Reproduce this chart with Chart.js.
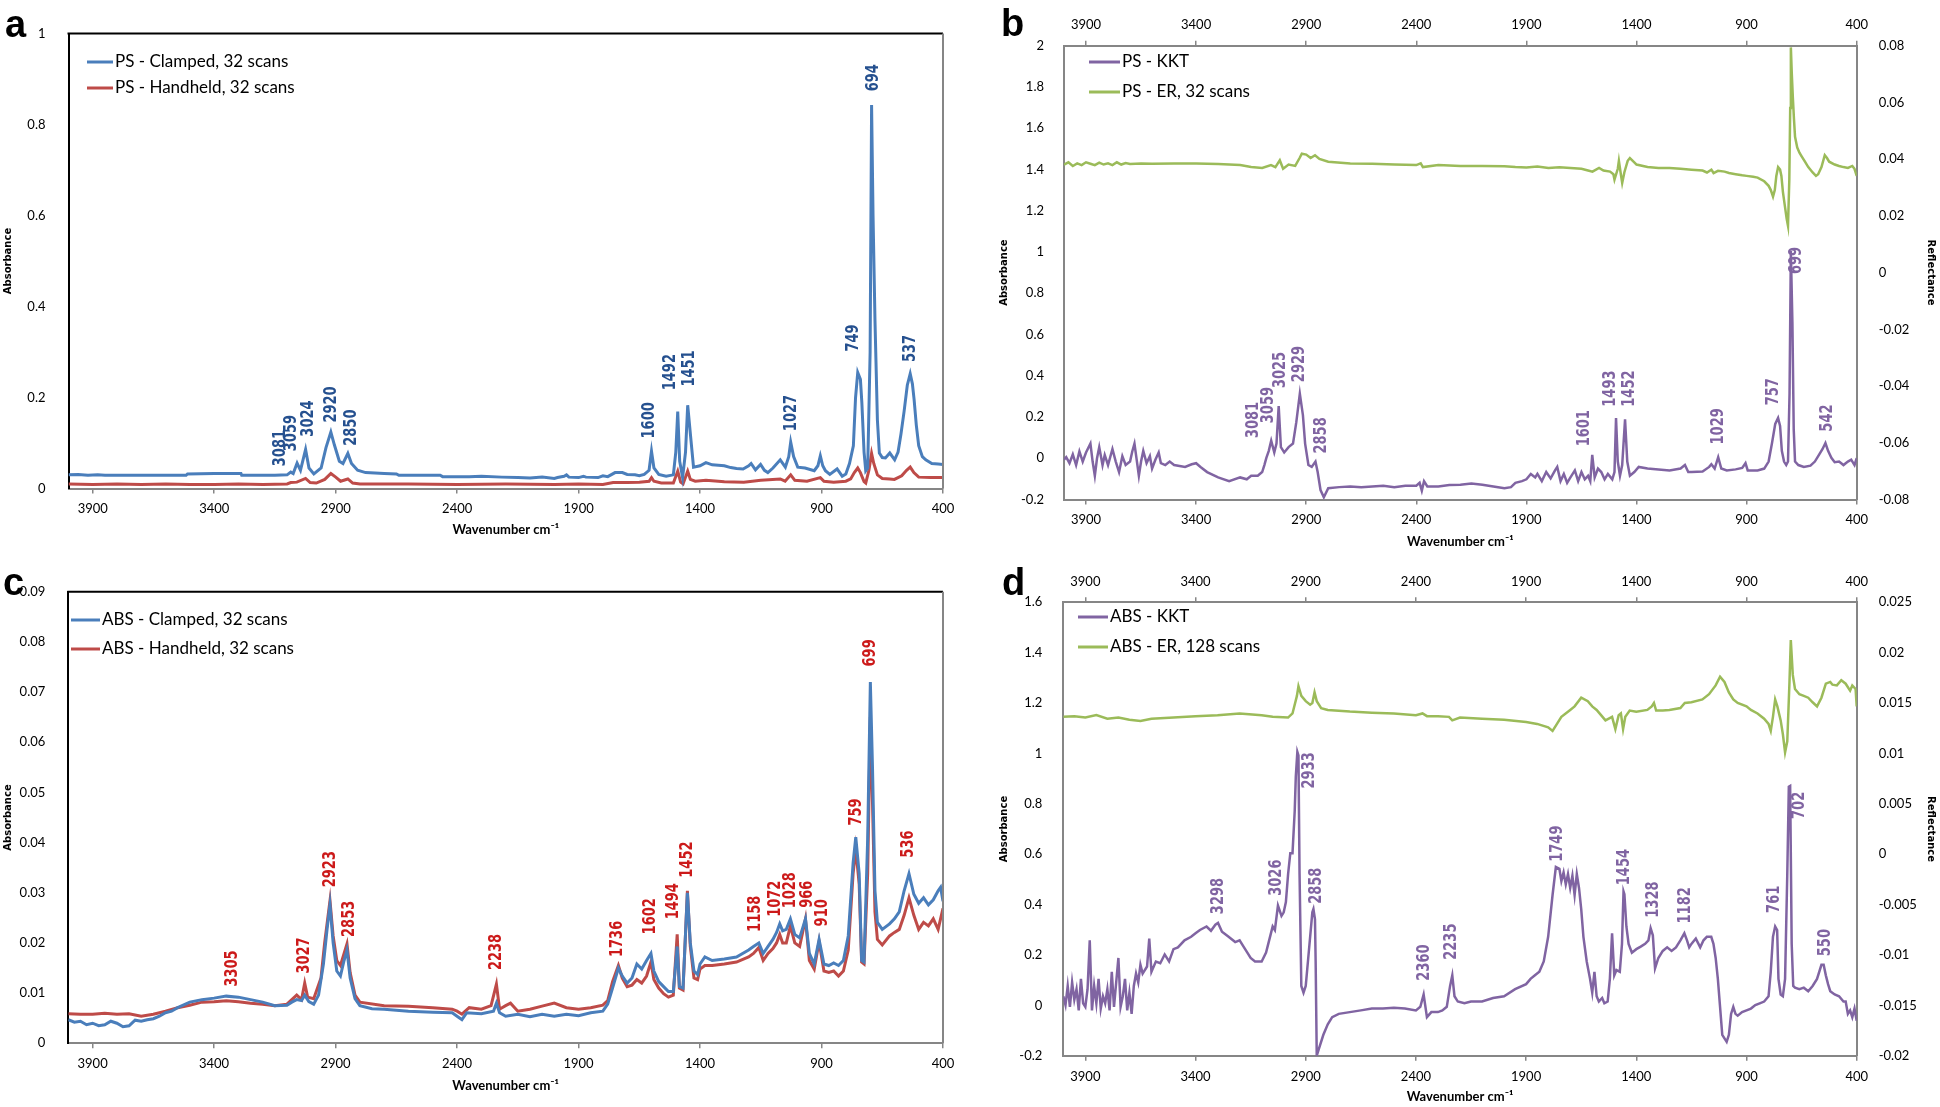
<!DOCTYPE html>
<html>
<head>
<meta charset="utf-8">
<script src="https://cdn.jsdelivr.net/npm/chart.js@4.4.1/dist/chart.umd.min.js"></script>
<style>
  body { margin: 0; background: #fff; width: 1940px; height: 1107px; overflow: hidden; position: relative; }
  canvas { position: absolute; }
</style>
</head>
<body>
<canvas id="chart-a" width="970" height="560" style="left:0;top:0"></canvas>
<canvas id="chart-b" width="970" height="560" style="left:970px;top:0"></canvas>
<canvas id="chart-c" width="970" height="547" style="left:0;top:560px"></canvas>
<canvas id="chart-d" width="970" height="547" style="left:970px;top:560px"></canvas>
<script>
// tick values
const xTicks = [3900, 3400, 2900, 2400, 1900, 1400, 900, 400];
const yTicksA = [0, 0.2, 0.4, 0.6, 0.8, 1];
const yTicksB = [-0.2, 0, 0.2, 0.4, 0.6, 0.8, 1, 1.2, 1.4, 1.6, 1.8, 2];
const yTicksBRight = [-0.08, -0.06, -0.04, -0.02, 0, 0.02, 0.04, 0.06, 0.08];
const yTicksC = [0, 0.01, 0.02, 0.03, 0.04, 0.05, 0.06, 0.07, 0.08, 0.09];
const yTicksD = [-0.2, 0, 0.2, 0.4, 0.6, 0.8, 1, 1.2, 1.4, 1.6];
const yTicksDRight = [-0.02, -0.015, -0.01, -0.005, 0, 0.005, 0.01, 0.015, 0.02, 0.025];

// spectra: [wavenumber, value]
const psClamped = [[4000,0.030],[3960,0.031],[3920,0.029],[3880,0.030],[3850,0.029],[3700,0.029],[3600,0.029],[3516,0.029],[3510,0.032],[3400,0.033],[3290,0.033],[3287,0.029],[3150,0.029],[3100,0.030],[3085,0.036],[3075,0.033],[3059,0.056],[3045,0.040],[3024,0.086],[3010,0.045],[2990,0.032],[2960,0.045],[2940,0.090],[2920,0.124],[2905,0.095],[2885,0.060],[2870,0.055],[2850,0.077],[2835,0.055],[2810,0.040],[2777,0.035],[2700,0.033],[2650,0.032],[2640,0.029],[2470,0.029],[2460,0.026],[2350,0.026],[2300,0.027],[2216,0.025],[2150,0.024],[2100,0.023],[2050,0.025],[2000,0.022],[1987,0.024],[1960,0.027],[1950,0.030],[1940,0.025],[1900,0.024],[1880,0.027],[1870,0.025],[1820,0.024],[1800,0.028],[1780,0.026],[1750,0.035],[1720,0.035],[1700,0.031],[1668,0.030],[1650,0.028],[1630,0.031],[1610,0.040],[1600,0.082],[1590,0.045],[1570,0.031],[1540,0.027],[1510,0.030],[1500,0.080],[1492,0.169],[1484,0.060],[1472,0.024],[1460,0.080],[1451,0.183],[1440,0.120],[1427,0.047],[1400,0.050],[1376,0.057],[1350,0.052],[1325,0.051],[1300,0.050],[1274,0.046],[1250,0.044],[1223,0.043],[1200,0.050],[1190,0.055],[1172,0.041],[1151,0.053],[1135,0.040],[1121,0.035],[1100,0.045],[1070,0.063],[1049,0.047],[1035,0.070],[1027,0.102],[1015,0.070],[998,0.047],[968,0.045],[930,0.039],[915,0.050],[905,0.072],[895,0.050],[884,0.039],[866,0.031],[836,0.043],[815,0.027],[800,0.032],[785,0.055],[769,0.094],[760,0.200],[751,0.255],[740,0.240],[734,0.188],[725,0.080],[718,0.039],[710,0.045],[700,0.300],[694,0.843],[688,0.600],[680,0.369],[670,0.150],[662,0.078],[650,0.068],[637,0.067],[619,0.078],[599,0.063],[585,0.080],[573,0.120],[560,0.170],[547,0.227],[535,0.252],[526,0.230],[519,0.196],[510,0.140],[500,0.094],[485,0.070],[471,0.063],[446,0.055],[420,0.054],[400,0.053]];
const psHandheld = [[4000,0.010],[3900,0.009],[3800,0.010],[3700,0.009],[3600,0.010],[3500,0.009],[3400,0.009],[3300,0.010],[3200,0.009],[3100,0.010],[3085,0.013],[3060,0.014],[3024,0.022],[3005,0.013],[2980,0.012],[2945,0.020],[2920,0.033],[2900,0.025],[2880,0.016],[2850,0.021],[2830,0.012],[2800,0.010],[2600,0.010],[2400,0.009],[2200,0.010],[2000,0.009],[1900,0.010],[1800,0.009],[1758,0.013],[1700,0.013],[1650,0.014],[1610,0.016],[1600,0.024],[1590,0.016],[1560,0.012],[1510,0.012],[1492,0.038],[1480,0.014],[1470,0.010],[1451,0.038],[1440,0.020],[1420,0.016],[1376,0.018],[1300,0.015],[1220,0.014],[1150,0.018],[1070,0.021],[1050,0.016],[1027,0.030],[1010,0.018],[960,0.016],[905,0.024],[890,0.016],[850,0.014],[800,0.016],[780,0.021],[765,0.035],[751,0.045],[740,0.035],[725,0.015],[718,0.012],[705,0.040],[694,0.077],[685,0.055],[670,0.030],[650,0.022],[620,0.021],[600,0.020],[570,0.028],[550,0.040],[535,0.047],[520,0.035],[500,0.025],[450,0.024],[400,0.024]];

const psKKT = [[4000,-0.007],[3990,0.005],[3975,-0.024],[3960,0.019],[3945,-0.033],[3930,0.033],[3915,-0.016],[3900,0.028],[3880,0.071],[3870,-0.016],[3860,-0.085],[3850,0],[3840,0.054],[3825,-0.033],[3815,0.016],[3800,-0.033],[3780,0.045],[3765,-0.016],[3750,-0.067],[3735,0.010],[3720,-0.033],[3700,-0.016],[3690,0.033],[3680,0.071],[3670,-0.007],[3660,-0.085],[3650,-0.016],[3640,0.036],[3625,-0.024],[3610,0.010],[3600,-0.050],[3585,-0.007],[3570,0.028],[3560,-0.024],[3540,-0.033],[3520,-0.016],[3500,-0.033],[3450,-0.042],[3420,-0.029],[3400,-0.024],[3380,-0.042],[3350,-0.067],[3300,-0.093],[3250,-0.111],[3200,-0.093],[3170,-0.102],[3150,-0.085],[3120,-0.085],[3100,-0.067],[3090,-0.033],[3081,0.002],[3070,0.036],[3059,0.085],[3045,0.028],[3035,0.071],[3025,0.253],[3015,0.054],[3000,0.028],[2980,0.054],[2960,0.071],[2945,0.175],[2929,0.313],[2915,0.209],[2905,0.071],[2890,-0.033],[2875,-0.042],[2858,-0.016],[2848,-0.067],[2835,-0.154],[2820,-0.189],[2800,-0.145],[2750,-0.140],[2700,-0.137],[2650,-0.140],[2600,-0.137],[2550,-0.133],[2500,-0.140],[2450,-0.133],[2400,-0.133],[2385,-0.119],[2375,-0.157],[2365,-0.111],[2350,-0.137],[2300,-0.137],[2250,-0.130],[2200,-0.128],[2150,-0.123],[2100,-0.128],[2050,-0.137],[2000,-0.145],[1970,-0.140],[1950,-0.119],[1920,-0.111],[1900,-0.102],[1880,-0.076],[1860,-0.093],[1850,-0.076],[1830,-0.111],[1810,-0.067],[1790,-0.098],[1770,-0.059],[1760,-0.042],[1745,-0.111],[1730,-0.076],[1715,-0.119],[1700,-0.093],[1680,-0.059],[1665,-0.111],[1650,-0.067],[1635,-0.102],[1620,-0.085],[1610,-0.111],[1601,0.016],[1590,-0.093],[1575,-0.050],[1560,-0.067],[1545,-0.102],[1530,-0.076],[1510,-0.102],[1500,-0.067],[1493,0.195],[1485,-0.016],[1475,-0.085],[1465,-0.033],[1452,0.189],[1442,-0.016],[1430,-0.085],[1410,-0.067],[1390,-0.042],[1350,-0.050],[1300,-0.054],[1250,-0.059],[1200,-0.050],[1180,-0.033],[1165,-0.067],[1150,-0.067],[1100,-0.064],[1070,-0.042],[1060,-0.029],[1045,-0.050],[1029,0.005],[1015,-0.050],[990,-0.059],[950,-0.054],[920,-0.047],[905,-0.024],[895,-0.059],[850,-0.059],[820,-0.050],[800,-0.016],[785,0.071],[770,0.166],[757,0.195],[748,0.157],[740,0.036],[730,-0.016],[720,-0.033],[712,-0.016],[705,0.313],[699,1.005],[692,0.659],[686,0.140],[680,-0.016],[665,-0.033],[640,-0.042],[610,-0.036],[590,-0.016],[570,0.019],[555,0.045],[542,0.074],[530,0.036],[515,0.002],[500,-0.019],[480,-0.016],[460,-0.033],[440,-0.016],[425,-0.007],[410,-0.033],[400,0]];
const psER = [[4000,0.0381],[3980,0.0389],[3960,0.0376],[3940,0.0385],[3920,0.0379],[3900,0.0389],[3880,0.0384],[3860,0.0379],[3840,0.0388],[3820,0.0381],[3800,0.0385],[3780,0.0379],[3760,0.0389],[3740,0.0381],[3720,0.0386],[3700,0.0383],[3650,0.0385],[3600,0.0384],[3500,0.0385],[3400,0.0385],[3300,0.0383],[3200,0.0379],[3150,0.0372],[3100,0.0369],[3060,0.0379],[3040,0.0372],[3020,0.0396],[3005,0.0366],[2980,0.0381],[2950,0.0376],[2930,0.0404],[2920,0.0419],[2900,0.0416],[2880,0.0404],[2860,0.0414],[2840,0.0401],[2800,0.0391],[2700,0.0385],[2600,0.0384],[2500,0.0381],[2400,0.0379],[2380,0.0385],[2370,0.0372],[2300,0.0379],[2200,0.0376],[2100,0.0376],[2000,0.0375],[1950,0.0372],[1900,0.0371],[1850,0.0374],[1800,0.0369],[1750,0.0371],[1700,0.0369],[1650,0.0366],[1620,0.0360],[1600,0.0356],[1570,0.0369],[1550,0.0360],[1520,0.0356],[1505,0.0347],[1500,0.0328],[1485,0.0366],[1480,0.0394],[1470,0.0341],[1465,0.0316],[1455,0.0354],[1440,0.0394],[1430,0.0404],[1410,0.0389],[1400,0.0381],[1350,0.0372],[1300,0.0369],[1250,0.0369],[1200,0.0366],[1150,0.0363],[1100,0.0360],[1080,0.0353],[1060,0.0363],[1050,0.0351],[1030,0.0359],[1000,0.0356],[980,0.0351],[950,0.0347],[920,0.0343],[900,0.0341],[870,0.0338],[850,0.0335],[820,0.0322],[800,0.0306],[790,0.0291],[780,0.0268],[772,0.0291],[765,0.0341],[757,0.0372],[748,0.0363],[742,0.0341],[735,0.0284],[725,0.0228],[718,0.0190],[712,0.0165],[706,0.0328],[702,0.0580],[699,0.0794],[695,0.0706],[690,0.0618],[685,0.0543],[680,0.0479],[670,0.0441],[660,0.0423],[650,0.0410],[635,0.0391],[620,0.0372],[600,0.0353],[585,0.0341],[575,0.0347],[560,0.0372],[545,0.0414],[535,0.0404],[525,0.0391],[500,0.0381],[480,0.0376],[460,0.0372],[440,0.0369],[420,0.0376],[410,0.0366],[400,0.0341]];

const absClamped = [[4000,0.0047],[3975,0.0042],[3950,0.0044],[3925,0.0037],[3900,0.0040],[3875,0.0035],[3850,0.0037],[3825,0.0044],[3800,0.0040],[3775,0.0033],[3750,0.0035],[3725,0.0046],[3700,0.0044],[3675,0.0047],[3650,0.0049],[3625,0.0054],[3600,0.0061],[3575,0.0064],[3550,0.0071],[3500,0.0082],[3450,0.0087],[3400,0.0090],[3350,0.0094],[3300,0.0092],[3250,0.0087],[3200,0.0082],[3150,0.0075],[3100,0.0076],[3080,0.0082],[3060,0.0087],[3040,0.0085],[3027,0.0096],[3010,0.0083],[2990,0.0078],[2970,0.0096],[2950,0.0158],[2935,0.0227],[2923,0.0276],[2910,0.0200],[2895,0.0144],[2880,0.0134],[2865,0.0165],[2853,0.0186],[2840,0.0130],[2820,0.0089],[2800,0.0075],[2750,0.0069],[2700,0.0068],[2600,0.0064],[2500,0.0062],[2420,0.0061],[2400,0.0054],[2380,0.0047],[2360,0.0061],[2300,0.0059],[2250,0.0064],[2238,0.0080],[2225,0.0061],[2200,0.0054],[2150,0.0058],[2100,0.0053],[2050,0.0058],[2000,0.0054],[1950,0.0058],[1900,0.0055],[1850,0.0061],[1800,0.0064],[1780,0.0078],[1760,0.0110],[1736,0.0150],[1720,0.0134],[1700,0.0120],[1680,0.0130],[1660,0.0158],[1640,0.0148],[1620,0.0165],[1602,0.0179],[1590,0.0144],[1570,0.0123],[1550,0.0113],[1530,0.0103],[1510,0.0103],[1494,0.0193],[1485,0.0113],[1470,0.0110],[1452,0.0300],[1440,0.0200],[1425,0.0144],[1410,0.0137],[1400,0.0158],[1380,0.0172],[1350,0.0165],[1300,0.0168],[1250,0.0172],[1200,0.0186],[1180,0.0193],[1158,0.0200],[1140,0.0179],[1120,0.0193],[1100,0.0207],[1085,0.0221],[1072,0.0238],[1060,0.0224],[1045,0.0227],[1028,0.0248],[1010,0.0217],[990,0.0210],[966,0.0248],[950,0.0179],[930,0.0158],[910,0.0207],[890,0.0158],[870,0.0155],[850,0.0160],[830,0.0155],[810,0.0165],[790,0.0214],[770,0.0359],[759,0.0411],[745,0.0338],[735,0.0165],[725,0.0162],[710,0.0408],[699,0.0720],[690,0.0546],[680,0.0304],[670,0.0241],[650,0.0227],[620,0.0238],[600,0.0248],[580,0.0262],[560,0.0304],[540,0.0338],[520,0.0297],[500,0.0279],[480,0.0290],[460,0.0276],[440,0.0286],[420,0.0304],[410,0.0311],[400,0.0283]];
const absHandheld = [[4000,0.0059],[3950,0.0058],[3900,0.0058],[3850,0.0060],[3800,0.0058],[3750,0.0059],[3700,0.0054],[3650,0.0058],[3600,0.0064],[3550,0.0071],[3500,0.0076],[3450,0.0082],[3400,0.0083],[3350,0.0085],[3300,0.0083],[3250,0.0080],[3200,0.0078],[3150,0.0075],[3100,0.0078],[3060,0.0096],[3040,0.0087],[3027,0.0120],[3015,0.0092],[2990,0.0089],[2960,0.0130],[2945,0.0200],[2923,0.0284],[2910,0.0214],[2895,0.0165],[2880,0.0155],[2853,0.0198],[2840,0.0141],[2820,0.0096],[2800,0.0082],[2700,0.0075],[2600,0.0074],[2500,0.0071],[2420,0.0068],[2400,0.0064],[2380,0.0058],[2350,0.0071],[2300,0.0068],[2260,0.0075],[2238,0.0118],[2225,0.0068],[2200,0.0075],[2180,0.0080],[2150,0.0064],[2100,0.0068],[2050,0.0074],[2000,0.0080],[1950,0.0071],[1900,0.0068],[1850,0.0071],[1800,0.0076],[1780,0.0085],[1760,0.0123],[1736,0.0155],[1720,0.0130],[1700,0.0113],[1680,0.0116],[1660,0.0127],[1640,0.0120],[1620,0.0134],[1602,0.0162],[1590,0.0127],[1570,0.0110],[1550,0.0099],[1530,0.0092],[1510,0.0096],[1494,0.0217],[1485,0.0110],[1470,0.0106],[1452,0.0304],[1440,0.0193],[1425,0.0130],[1410,0.0127],[1400,0.0148],[1380,0.0155],[1350,0.0155],[1300,0.0158],[1250,0.0162],[1200,0.0172],[1180,0.0179],[1158,0.0191],[1140,0.0165],[1120,0.0179],[1100,0.0189],[1085,0.0200],[1072,0.0217],[1060,0.0200],[1045,0.0200],[1028,0.0234],[1010,0.0200],[990,0.0193],[966,0.0248],[950,0.0165],[930,0.0148],[910,0.0203],[890,0.0144],[870,0.0141],[850,0.0144],[830,0.0134],[810,0.0144],[790,0.0186],[770,0.0338],[759,0.0387],[745,0.0318],[735,0.0162],[725,0.0158],[710,0.0338],[699,0.0650],[690,0.0477],[680,0.0262],[670,0.0207],[650,0.0196],[620,0.0214],[600,0.0221],[580,0.0227],[560,0.0255],[540,0.0290],[520,0.0255],[500,0.0227],[480,0.0241],[460,0.0234],[440,0.0248],[420,0.0227],[400,0.0269]];

const absKKT = [[4000,0.036],[3990,0.001],[3980,0.077],[3970,-0.006],[3960,0.091],[3950,0.022],[3940,0.064],[3930,-0.020],[3920,0.105],[3910,0.008],[3900,-0.006],[3890,0.064],[3880,0.258],[3870,-0.020],[3860,0.077],[3850,0.008],[3840,0.105],[3830,-0.013],[3820,0.036],[3810,0.008],[3800,0.064],[3790,-0.020],[3780,0.133],[3770,-0.006],[3760,0.091],[3750,0.188],[3740,-0.006],[3730,0.036],[3720,0.105],[3710,-0.020],[3700,0.050],[3690,-0.034],[3680,0.077],[3670,0.126],[3660,0.091],[3650,0.161],[3640,0.126],[3620,0.154],[3610,0.265],[3600,0.133],[3580,0.174],[3560,0.167],[3540,0.202],[3520,0.174],[3500,0.223],[3480,0.230],[3450,0.258],[3420,0.272],[3400,0.286],[3380,0.299],[3350,0.313],[3330,0.296],[3310,0.320],[3298,0.327],[3280,0.292],[3250,0.272],[3220,0.251],[3200,0.258],[3180,0.230],[3160,0.202],[3150,0.188],[3130,0.174],[3100,0.174],[3080,0.209],[3070,0.244],[3050,0.313],[3040,0.299],[3026,0.396],[3010,0.355],[3000,0.369],[2990,0.410],[2980,0.521],[2970,0.604],[2960,0.604],[2950,0.771],[2945,0.909],[2938,1.006],[2933,0.992],[2928,0.521],[2920,0.077],[2910,0.050],[2900,0.077],[2890,0.174],[2870,0.369],[2865,0.382],[2858,0.341],[2855,0.174],[2850,-0.200],[2840,-0.172],[2820,-0.117],[2800,-0.075],[2780,-0.047],[2750,-0.034],[2700,-0.027],[2650,-0.020],[2600,-0.013],[2550,-0.013],[2500,-0.010],[2450,-0.013],[2400,-0.020],[2380,-0.006],[2365,0.043],[2350,-0.047],[2330,-0.027],[2300,-0.027],[2280,-0.020],[2260,-0.006],[2245,0.077],[2235,0.119],[2225,0.036],[2210,0.015],[2180,0.008],[2150,0.015],[2100,0.015],[2050,0.029],[2000,0.036],[1950,0.064],[1900,0.084],[1880,0.105],[1860,0.119],[1840,0.133],[1820,0.174],[1800,0.272],[1780,0.438],[1765,0.549],[1749,0.542],[1740,0.493],[1730,0.528],[1720,0.480],[1710,0.521],[1700,0.466],[1690,0.514],[1680,0.438],[1670,0.521],[1660,0.466],[1650,0.382],[1640,0.272],[1625,0.174],[1610,0.105],[1600,0.050],[1590,0.133],[1580,0.036],[1570,0.015],[1555,0.029],[1545,0.008],[1530,0.015],[1520,0.105],[1510,0.286],[1500,0.119],[1490,0.140],[1475,0.133],[1465,0.244],[1458,0.452],[1454,0.441],[1445,0.313],[1435,0.244],[1420,0.209],[1400,0.223],[1380,0.233],[1360,0.244],[1345,0.258],[1335,0.306],[1325,0.278],[1315,0.147],[1300,0.188],[1280,0.216],[1260,0.230],[1240,0.216],[1220,0.230],[1200,0.258],[1182,0.286],[1170,0.258],[1160,0.230],[1150,0.244],[1130,0.265],[1110,0.230],[1095,0.258],[1080,0.272],[1060,0.272],[1050,0.244],[1040,0.188],[1030,0.105],[1020,-0.006],[1010,-0.117],[1000,-0.131],[990,-0.145],[980,-0.117],[970,-0.034],[960,-0.006],[950,-0.034],[940,-0.041],[920,-0.027],[900,-0.020],[880,-0.013],[860,0.001],[840,0.008],[820,0.015],[800,0.036],[790,0.133],[780,0.272],[770,0.313],[761,0.299],[755,0.105],[745,0.043],[735,0.036],[725,0.105],[715,0.521],[708,0.868],[702,0.871],[695,0.244],[688,0.077],[680,0.070],[660,0.064],[640,0.070],[620,0.056],[600,0.077],[580,0.105],[560,0.161],[550,0.161],[540,0.119],[530,0.084],[520,0.056],[500,0.043],[480,0.036],[460,0.015],[450,0.015],[440,-0.034],[430,-0.020],[420,-0.047],[410,-0.013],[400,-0.061]];
const absER = [[4000,0.01363],[3950,0.0137],[3900,0.01356],[3850,0.0138],[3800,0.01345],[3750,0.01356],[3700,0.01335],[3650,0.01321],[3600,0.01345],[3500,0.01356],[3400,0.0137],[3300,0.0138],[3200,0.01397],[3100,0.0138],[3050,0.01363],[2980,0.01356],[2960,0.01397],[2940,0.01571],[2933,0.01668],[2920,0.01571],[2900,0.01519],[2880,0.01484],[2870,0.01501],[2860,0.01606],[2850,0.01519],[2830,0.0145],[2800,0.01432],[2700,0.01415],[2600,0.01404],[2500,0.01397],[2400,0.0138],[2370,0.01397],[2350,0.0137],[2300,0.0137],[2250,0.01363],[2235,0.01328],[2200,0.01356],[2100,0.01345],[2000,0.01335],[1900,0.01311],[1850,0.01293],[1800,0.01259],[1780,0.01224],[1760,0.01293],[1740,0.01363],[1700,0.01432],[1680,0.01467],[1650,0.01553],[1620,0.01519],[1600,0.01467],[1580,0.01432],[1560,0.0138],[1540,0.01328],[1510,0.01363],[1495,0.01241],[1480,0.0138],[1470,0.01397],[1460,0.01241],[1450,0.01363],[1430,0.01425],[1400,0.01415],[1350,0.01432],[1330,0.01467],[1320,0.01501],[1310,0.01425],[1280,0.01425],[1250,0.01432],[1200,0.0145],[1180,0.01501],[1150,0.01508],[1100,0.01536],[1070,0.01588],[1040,0.01675],[1020,0.01762],[1000,0.0171],[980,0.01606],[960,0.01536],[940,0.01501],[900,0.01467],[880,0.01432],[850,0.01397],[820,0.01345],[800,0.01293],[790,0.01224],[780,0.01363],[770,0.01536],[760,0.01467],[745,0.01328],[735,0.0119],[725,0.0101],[715,0.0112],[705,0.0171],[699,0.02126],[690,0.01779],[680,0.0164],[660,0.01588],[640,0.01571],[620,0.01553],[600,0.01508],[580,0.01467],[560,0.01553],[540,0.01692],[520,0.0171],[510,0.01682],[490,0.01675],[470,0.01727],[450,0.01692],[430,0.01623],[420,0.01675],[405,0.0164],[400,0.01467]];

// peak labels: [text, wavenumber of text, value at text bottom]
const psAbsPeaks = [['3081',3126,0.049],['3059',3083,0.082],['3024',3014,0.114],['2920',2917,0.145],['2850',2836,0.094],['1600',1610,0.110],['1492',1521,0.216],['1451',1444,0.224],['1027',1024,0.126],['749',769,0.301],['694',688,0.873],['537',535,0.278]];
const psKKTPeaks = [['3081',3139,0.098],['3059',3072,0.170],['3025',3016,0.340],['2929',2931,0.369],['2858',2830,0.023],['1601',1635,0.058],['1493',1517,0.250],['1452',1432,0.250],['1029',1030,0.067],['757',777,0.257],['699',673,0.893],['542',532,0.129]];
const absAbsPeaks = [['3305',3323,0.0113],['3027',3030,0.0139],['2923',2920,0.0311],['2853',2843,0.0212],['2238',2238,0.0146],['1736',1741,0.0172],['1602',1605,0.0217],['1494',1511,0.0247],['1452',1452,0.0330],['1158',1171,0.0222],['1072',1090,0.0252],['1028',1026,0.0269],['966',957,0.0270],['910',898,0.0233],['759',758,0.0434],['699',699,0.0751],['536',541,0.0370]];
const absKKTPeaks = [['3298',3294,0.362],['3026',3035,0.435],['2933',2881,0.861],['2858',2852,0.403],['2360',2360,0.098],['2235',2239,0.181],['1749',1756,0.570],['1454',1455,0.477],['1328',1320,0.348],['1182',1179,0.325],['761',771,0.367],['702',659,0.740],['550',541,0.195]];

const GREY = '#868686';
const BLUE = '#4A7EBB', RED = '#BE4B48', PURPLE = '#8064A2', GREEN = '#9BBB59';
const tickFont = { family: 'Lato', size: 13 };

function xAxis(position, height, pad, showTitle, titlePad) {
    return {
        type: 'linear', position, reverse: true, min: 400, max: 4000,
        afterBuildTicks: s => { s.ticks = xTicks.map(v => ({ value: v })); },
        afterFit: s => { s.height = height; },
        grid: { drawOnChartArea: false, drawTicks: true, tickLength: 5, color: GREY, lineWidth: 1.5 },
        border: { color: GREY, width: 2 },
        ticks: { font: tickFont, color: '#000', padding: pad, maxRotation: 0, autoSkip: false, callback: v => String(v) },
        title: { display: showTitle, text: 'Wavenumber cm⁻¹', color: '#000',
                 font: { family: 'Lato', size: 13, weight: 'bold' }, padding: { top: 0, bottom: titlePad } }
    };
}

function yAxis(position, ticksArr, width, pad, title, titlePad, borderColor) {
    return {
        type: 'linear', position, min: ticksArr[0], max: ticksArr[ticksArr.length - 1],
        afterBuildTicks: s => { s.ticks = ticksArr.map(v => ({ value: v })); },
        afterFit: s => { s.width = width; },
        grid: { display: false },
        border: { display: true, color: borderColor, width: 2 },
        ticks: { font: tickFont, color: '#000', padding: pad, callback: v => String(v) },
        title: { display: true, text: title, color: '#000',
                 font: { family: 'DejaVu Sans', size: 10, weight: 'bold' },
                 padding: { top: titlePad, bottom: 0 } }
    };
}

function line(label, data, color, width, yAxisID) {
    return { label, data: data.map(([x, y]) => ({ x, y })), borderColor: color, backgroundColor: color,
             borderWidth: width, pointRadius: 0, tension: 0, yAxisID, xAxisID: 'x' };
}

// frame, legend, peak labels and panel letter
const decor = {
    id: 'decor',
    afterDatasetsDraw(chart, args, o) {
        const ctx = chart.ctx, a = chart.chartArea;
        ctx.save();
        if (o.frameTop) {
            ctx.strokeStyle = o.frameTop; ctx.lineWidth = 2;
            ctx.beginPath(); ctx.moveTo(a.left - 1, a.top); ctx.lineTo(a.right, a.top); ctx.stroke();
        }
        if (o.frameRight) {
            ctx.strokeStyle = o.frameRight; ctx.lineWidth = 2;
            ctx.beginPath(); ctx.moveTo(a.right, a.top); ctx.lineTo(a.right, a.bottom); ctx.stroke();
        }
        chart.data.datasets.forEach((ds, i) => {
            const y = o.legendRows[i];
            ctx.strokeStyle = ds.borderColor; ctx.lineWidth = 3;
            ctx.beginPath(); ctx.moveTo(o.legendX[0], y); ctx.lineTo(o.legendX[1], y); ctx.stroke();
            ctx.fillStyle = '#000'; ctx.font = '17px Lato';
            ctx.textAlign = 'left'; ctx.textBaseline = 'middle';
            ctx.fillText(ds.label, o.legendX[2], y);
        });
        const xs = chart.scales.x, ys = chart.scales.y;
        ctx.fillStyle = o.peakColor;
        ctx.font = 'bold 13px "DejaVu Sans"';
        o.peaks.forEach(([t, wn, v]) => {
            ctx.save();
            ctx.translate(xs.getPixelForValue(wn), ys.getPixelForValue(v));
            ctx.rotate(-Math.PI / 2);
            ctx.scale(1, 1.35); // the source figure's rotated labels are stretched sideways
            ctx.textAlign = 'left'; ctx.textBaseline = 'middle';
            ctx.fillText(t, 0, 0);
            ctx.restore();
        });
        ctx.fillStyle = '#000'; ctx.font = 'bold 38px "Liberation Sans"';
        ctx.textAlign = 'left'; ctx.textBaseline = 'alphabetic';
        ctx.fillText(o.letter, o.letterPos[0], o.letterPos[1]);
        ctx.restore();
    }
};

const common = { responsive: false, animation: false, events: [] };

new Chart(document.getElementById('chart-a'), {
    type: 'line',
    data: { datasets: [line('PS - Clamped, 32 scans', psClamped, BLUE, 3, 'y'),
                       line('PS - Handheld, 32 scans', psHandheld, RED, 3, 'y')] },
    options: { ...common,
        layout: { padding: { left: 0, right: 27, top: 33.5, bottom: 0 } },
        scales: { x: xAxis('bottom', 71.5, 8, true, 22),
                  y: yAxis('left', yTicksA, 68.5, 15, 'Absorbance', 2, '#000') },
        plugins: { legend: { display: false }, tooltip: { enabled: false },
            decor: { frameTop: '#000', frameRight: GREY, legendX: [87, 113, 115], legendRows: [62, 88],
                     peaks: psAbsPeaks, peakColor: '#25508F', letter: 'a', letterPos: [5, 37] } } },
    plugins: [decor]
});

new Chart(document.getElementById('chart-b'), {
    type: 'line',
    data: { datasets: [line('PS - KKT', psKKT, PURPLE, 2.5, 'y'),
                       line('PS - ER, 32 scans', psER, GREEN, 2.5, 'y1')] },
    options: { ...common,
        layout: { padding: 0 },
        scales: { x: xAxis('bottom', 60.5, 8, true, 10),
                  x2: xAxis('top', 45.7, 8, false, 0),
                  y: yAxis('left', yTicksB, 94, 12, 'Absorbance', 28, GREY),
                  y1: yAxis('right', yTicksBRight, 83.3, 14, 'Reflectance', 3, GREY) },
        plugins: { legend: { display: false }, tooltip: { enabled: false },
            decor: { legendX: [119, 150, 152], legendRows: [62, 92],
                     peaks: psKKTPeaks, peakColor: PURPLE, letter: 'b', letterPos: [31, 36] } } },
    plugins: [decor]
});

new Chart(document.getElementById('chart-c'), {
    type: 'line',
    data: { datasets: [line('ABS - Clamped, 32 scans', absClamped, BLUE, 3, 'y'),
                       line('ABS - Handheld, 32 scans', absHandheld, RED, 3, 'y')] },
    options: { ...common,
        layout: { padding: { left: 0, right: 27, top: 31.7, bottom: 0 } },
        scales: { x: xAxis('bottom', 63.7, 8, true, 13),
                  y: yAxis('left', yTicksC, 68.3, 15, 'Absorbance', 2, '#000') },
        plugins: { legend: { display: false }, tooltip: { enabled: false },
            decor: { frameTop: '#000', frameRight: GREY, legendX: [71, 100, 102], legendRows: [60, 89],
                     peaks: absAbsPeaks, peakColor: '#CC1A1A', letter: 'c', letterPos: [3, 35] } } },
    plugins: [decor]
});

new Chart(document.getElementById('chart-d'), {
    type: 'line',
    data: { datasets: [line('ABS - KKT', absKKT, PURPLE, 2.5, 'y'),
                       line('ABS - ER, 128 scans', absER, GREEN, 2.5, 'y1')] },
    options: { ...common,
        layout: { padding: 0 },
        scales: { x: xAxis('bottom', 51.3, 8, true, 2),
                  x2: xAxis('top', 42.3, 8, false, 0),
                  y: yAxis('left', yTicksD, 93.3, 13, 'Absorbance', 28, GREY),
                  y1: yAxis('right', yTicksDRight, 83.3, 14, 'Reflectance', 3, GREY) },
        plugins: { legend: { display: false }, tooltip: { enabled: false },
            decor: { legendX: [108, 138, 140], legendRows: [57, 87],
                     peaks: absKKTPeaks, peakColor: PURPLE, letter: 'd', letterPos: [32, 35] } } },
    plugins: [decor]
});
</script>
</body>
</html>
